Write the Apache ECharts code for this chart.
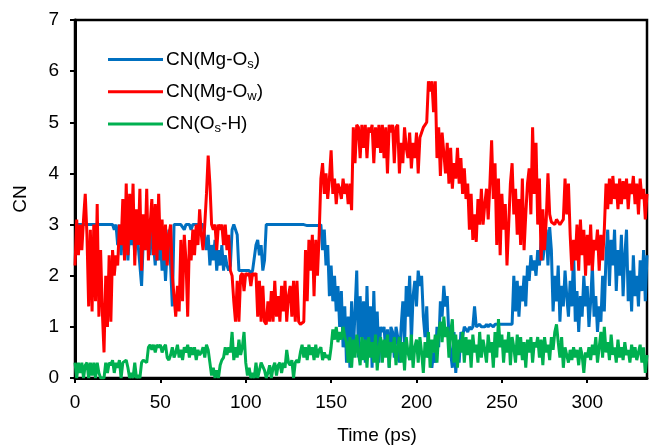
<!DOCTYPE html>
<html>
<head>
<meta charset="utf-8">
<script src="https://cdn.jsdelivr.net/npm/echarts@6/dist/echarts.min.js"></script>
<style>
html,body{margin:0;padding:0;background:#fff;}
#chart{width:649px;height:445px;}
</style>
</head>
<body>
<div id="chart"></div>
<script>
// sample spacing (ps)
var timeStep = 1;
var xTicks = [0, 50, 100, 150, 200, 250, 300];
var yTicks = [0, 1, 2, 3, 4, 5, 6, 7];
var seriesNames = ['CN(Mg-Os)', 'CN(Mg-Ow)', 'CN(Os-H)'];

// CN(Mg-Os), one value per ps from 0 to 335
var cnMgOs = [
3,3,3,3,3,3,3,3,3,3,
3,3,3,3,3,3,3,3,3,3,
3,3,3,2.9,3,2.6,3,2.4,2.9,2.5,
3,2.3,2.9,2.6,3,2.4,2.8,2.6,2.2,1.8,
2.7,3,2.5,2.9,2.4,3,2.6,2.2,2.9,2.3,
2.8,2.1,2.6,1.9,2.5,2.9,2.2,1.4,3,3,
3,3,3,3,2.9,3,3,3,2.9,3,
3,3,3,3,3,3,3,2.5,2.8,2.2,
2.6,2.3,2.7,2.1,2.5,2.2,2.6,2.1,2.4,2.2,
2.1,2.2,2.9,3,3,2.8,2.1,2.1,2.1,2.1,
2.1,2.1,2.1,2.05,2.1,2.1,2.6,2.7,2.4,2.6,
2.1,2.3,3,3,3,3,3,3,3,3,
3,3,3,3,3,3,3,3,3,3,
3,3,3,3,3,3,2.98,2.98,2.98,2.98,
2.98,2.98,2.98,2.98,3,2.5,2.9,2.2,2.6,1.6,
2.2,1.5,2.0,1.3,1.8,1.0,1.7,0.6,1.4,0.3,
1.2,0.2,1.5,0.5,1.3,2.1,0.4,1.6,0.8,1.5,
0.3,1.8,0.6,1.4,0.2,1.7,0.5,1.3,0.3,1.0,
0.9,1.0,0.5,0.95,0.2,1.0,0.9,0.4,1.0,0.8,
0.3,1.0,1.5,0.6,1.8,1.2,2.0,0.7,1.6,1.9,
1.4,2.1,1.8,2.0,1.2,0.8,1.4,0.4,0.6,0.2,
0.5,0.3,1.0,0.6,1.5,1.2,1.8,1.4,1.6,0.8,
0.5,0.2,0.9,0.1,0.6,0.3,0.9,0.8,1.0,0.95,
0.9,1.0,0.95,1.0,1.4,1.0,1.0,1.05,1.0,1.0,
1.0,1.05,1.0,1.05,1.05,1.0,1.05,1.05,1.05,1.05,
1.05,1.05,1.05,1.05,1.05,1.05,1.05,2.0,1.3,1.9,
1.2,1.8,1.5,2.0,1.4,2.2,1.9,2.4,2.1,2.3,
2.0,2.5,2.2,2.7,2.3,2.6,2.9,2.2,2.95,2.5,
1.3,2.0,1.5,2.2,1.1,1.8,1.4,2.1,1.6,1.2,
1.9,1.4,2.5,1.1,1.7,0.9,1.6,1.2,2.0,1.4,
1.8,1.0,1.5,2.2,1.2,1.6,0.9,1.4,1.1,2.0,
1.3,2.4,2.9,1.8,2.7,2.2,2.9,1.7,2.5,2.0,
2.8,1.6,2.4,2.9,1.5,2.1,1.3,2.4,1.6,2.0,
1.4,2.3,1.7,2.5,1.5,2.4
];

// CN(Mg-Ow)
var cnMgOw = [
2.2,3.1,2.4,3.0,2.5,3.1,3.6,2.8,1.4,2.9,
1.3,3.0,1.5,3.4,1.2,2.5,1.3,0.5,2.0,1.0,
2.4,1.1,2.5,2.0,2.4,2.2,3.0,2.6,3.5,2.3,
3.8,2.4,3.6,2.7,3.8,2.2,3.3,2.6,3.7,2.1,
3.2,2.5,3.7,2.3,3.0,3.5,2.4,3.4,2.3,3.6,
2.5,3.1,2.3,3.0,2.2,2.8,3.0,2.0,1.6,1.2,
1.8,1.3,2.7,1.5,2.8,2.3,1.2,2.7,2.3,2.9,
2.4,3.0,2.6,3.3,2.8,2.5,3.0,3.6,4.35,3.8,
3.0,2.9,3.0,2.5,3.0,2.9,3.0,2.6,3.0,2.5,
2.8,2.1,2.0,1.5,1.1,1.9,1.1,2.0,2.05,1.7,
2.05,2.0,2.05,1.8,2.05,2.0,2.05,1.2,1.9,1.1,
1.8,1.1,1.05,1.5,1.1,1.7,1.1,1.9,1.2,1.6,
1.1,1.8,1.3,1.9,1.1,1.6,1.8,1.2,1.9,1.1,
1.9,1.1,1.05,1.05,1.1,2.5,1.5,2.7,2.1,2.8,
1.6,2.7,2.0,2.8,3.9,4.2,3.6,4.0,3.5,3.9,
4.45,3.6,3.9,3.4,3.8,3.7,3.5,3.9,3.6,3.8,
3.4,3.8,3.28,4.9,4.2,4.95,4.9,4.3,4.95,4.5,
4.95,4.3,4.9,4.8,4.95,4.2,4.9,4.5,4.95,4.4,
4.95,4.3,4.9,4.0,4.95,4.8,4.95,4.2,4.9,4.95,
4.0,4.6,4.2,4.9,4.5,4.3,4.8,4.1,4.6,4.3,
4.8,4.0,4.7,4.8,4.9,4.95,5.0,5.8,5.6,5.8,
5.2,5.8,4.3,4.9,3.95,4.8,4.4,4.0,4.6,3.8,
4.5,3.7,4.2,3.9,4.5,3.8,4.3,3.6,4.1,3.5,
3.8,2.9,3.6,2.7,3.2,2.66,3.5,3.0,3.7,3.0,
3.4,3.7,3.1,3.8,4.65,3.5,4.2,2.6,3.9,2.4,
3.6,2.9,3.4,2.2,3.0,3.8,4.2,3.2,3.7,2.8,
3.5,2.6,3.9,2.5,3.2,3.8,4.1,3.2,4.9,3.6,
4.6,3.0,3.9,2.3,3.3,2.5,3.1,4.0,3.2,3.05,
3.05,3.0,3.1,3.05,3.0,3.05,3.1,3.9,3.2,3.8,
2.8,2.1,2.7,2.3,3.0,2.1,3.1,2.4,2.9,2.0,
2.8,2.2,3.0,2.1,2.7,2.5,2.9,2.1,2.8,2.3,
2.9,3.8,3.3,3.9,3.4,3.95,3.5,3.8,3.3,3.9,
3.4,3.85,3.5,3.9,3.3,3.8,3.6,3.95,3.4,3.8,
3.2,3.9,3.5,3.7,3.1,3.6
];

// CN(Os-H)
var cnOsH = [
0.3,0,0.3,0.1,0.3,0,0.25,0.3,0,0.3,
0.05,0.3,0,0.3,0.1,0,0,0,0.3,0.1,
0.3,0.25,0.35,0.1,0.3,0.2,0.35,0,0.3,0.3,
0.35,0.2,0,0.1,0,0.3,0,0.05,0,0.3,
0.35,0.35,0.3,0.6,0.65,0.55,0.65,0.5,0.65,0.6,
0.65,0.5,0.6,0.65,0.4,0.35,0.45,0.6,0.4,0.5,
0.65,0.4,0.55,0.35,0.6,0.5,0.65,0.4,0.6,0.45,
0.6,0.35,0.55,0.45,0.5,0.6,0.4,0.65,0.55,0.3,
0.05,0.2,0,0.15,0,0.25,0.35,0.4,0.6,0.45,
0.6,0.5,0.9,0.35,0.6,0.4,0.75,0.45,0.6,0.9,
0.3,0.05,0.2,0,0.1,0,0.3,0,0,0.3,
0.3,0.15,0,0.1,0.25,0,0.2,0.3,0.05,0.25,
0.3,0.1,0.3,0.2,0.55,0.3,0.25,0.35,0,0.3,
0.35,0.3,0.5,0.65,0.4,0.6,0.35,0.65,0.45,0.6,
0.35,0.65,0.4,0.55,0.6,0.35,0.5,0.4,0.45,0.35,
0.6,0.95,0.75,1.0,0.7,0.9,0.75,1.0,0.8,0.7,
0.3,0.8,0.2,0.75,0.4,0.85,0.5,0.25,0.8,0.35,
0.75,0.2,0.8,0.4,0.7,0.3,0.85,0.15,0.6,0.8,
0.3,0.75,0.4,0.85,0.2,0.7,0.5,0.8,0.25,0.6,
0.8,0.3,0.7,0.15,0.8,0.5,0.35,0.85,0.2,0.6,
0.75,0.3,0.8,0.5,0.1,0.7,0.4,0.9,0.2,0.75,
0.5,0.85,0.3,0.9,1.1,0.7,1.2,0.8,1.0,0.4,
0.9,1.15,0.3,0.85,0.2,0.75,0.5,0.9,0.3,0.8,
0.45,0.75,0.2,0.85,0.5,0.65,0.3,0.9,0.4,0.75,
0.55,0.3,0.85,0.5,0.7,0.2,0.9,0.4,1.15,0.6,
0.85,0.3,0.75,0.5,0.9,0.25,0.8,0.6,0.3,0.85,
0.45,0.8,0.35,0.7,0.2,0.75,0.5,0.8,0.3,0.7,
0.6,0.8,0.4,0.75,0.25,0.8,0.5,0.65,0.35,0.8,
0.55,0.9,1.05,0.7,0.4,0.8,0.2,0.6,0.45,0.3,
0.55,0.35,0.6,0.4,0.55,0.25,0.6,0.45,0.1,0.5,
0.4,0.6,0.35,0.65,0.45,0.8,0.3,0.6,0.9,0.4,
1.0,0.5,0.7,0.35,0.85,0.45,0.6,0.3,0.75,0.4,
0.6,0.35,0.7,0.45,0.55,0.3,0.65,0.4,0.6,0.35,
0.5,0.65,0.3,0.6,0.1,0.45
];

function pairs(vals) {
  return vals.map(function (v, i) { return [i * timeStep, v]; });
}

var FONT = '"Liberation Sans", Arial, sans-serif';
var chart = echarts.init(document.getElementById('chart'), null, {renderer: 'canvas'});

var legendLabels = {
  'CN(Mg-Os)': '{a|CN(Mg-O}{s|s}{a|)}',
  'CN(Mg-Ow)': '{a|CN(Mg-O}{s|w}{a|)}',
  'CN(Os-H)': '{a|CN(O}{s|s}{a|-H)}'
};

chart.setOption({
  animation: false,
  backgroundColor: '#fff',
  grid: {
    left: 75, right: 2, top: 20, bottom: 67,
    containLabel: false,
    outerBoundsMode: 'none',
    show: true, borderColor: '#000', borderWidth: 2.5, backgroundColor: 'transparent'
  },
  legend: {
    orient: 'vertical',
    left: 108, top: 50,
    padding: 0,
    itemWidth: 55, itemHeight: 3,
    itemGap: 11.5,
    icon: 'rect',
    data: seriesNames,
    formatter: function (name) { return legendLabels[name]; },
    textStyle: {
      padding: [0, 0, 0, -2],
      rich: {
        a: {fontFamily: FONT, fontSize: 19, color: '#000', lineHeight: 22.5},
        s: {fontFamily: FONT, fontSize: 13, color: '#000', lineHeight: 12, verticalAlign: 'bottom'}
      }
    }
  },
  xAxis: {
    type: 'value',
    min: 0, max: 335,
    name: 'Time (ps)',
    nameLocation: 'middle',
    nameGap: 48,
    nameTextStyle: {fontFamily: FONT, fontSize: 19, color: '#000', padding: [0, 0, 0, 32]},
    axisLine: {show: true, onZero: false, lineStyle: {color: '#000', width: 3}},
    axisTick: {show: true, inside: false, length: 5, lineStyle: {color: '#000', width: 2}, customValues: xTicks},
    axisLabel: {fontFamily: FONT, fontSize: 19, color: '#000', margin: 15, customValues: xTicks},
    splitLine: {show: false}
  },
  yAxis: {
    type: 'value',
    min: 0, max: 7, interval: 1,
    name: 'CN',
    nameLocation: 'middle',
    nameGap: 45,
    nameTextStyle: {fontFamily: FONT, fontSize: 19, color: '#000'},
    axisLine: {show: true, lineStyle: {color: '#000', width: 3}},
    axisTick: {show: true, inside: false, length: 5, lineStyle: {color: '#000', width: 2}, customValues: yTicks},
    axisLabel: {fontFamily: FONT, fontSize: 19, color: '#000', margin: 16, customValues: yTicks},
    splitLine: {show: false}
  },
  series: [
    {name: seriesNames[0], type: 'line', data: pairs(cnMgOs), showSymbol: false, symbol: 'none',
     lineStyle: {color: '#0070C0', width: 3}, itemStyle: {color: '#0070C0'}, z: 2},
    {name: seriesNames[1], type: 'line', data: pairs(cnMgOw), showSymbol: false, symbol: 'none',
     lineStyle: {color: '#FF0000', width: 3}, itemStyle: {color: '#FF0000'}, z: 3},
    {name: seriesNames[2], type: 'line', data: pairs(cnOsH), showSymbol: false, symbol: 'none',
     lineStyle: {color: '#00B050', width: 3}, itemStyle: {color: '#00B050'}, z: 4}
  ]
});
</script>
</body>
</html>
